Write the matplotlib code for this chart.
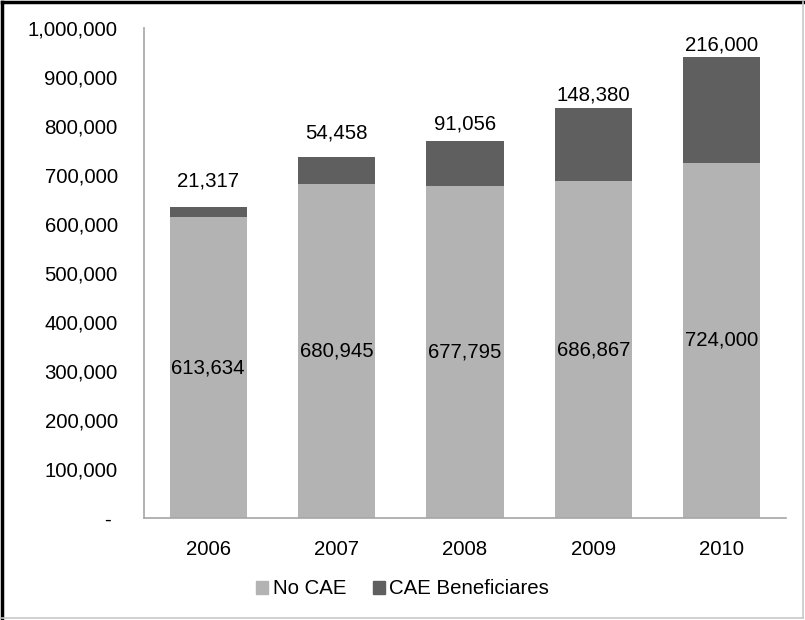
import matplotlib
matplotlib.use('Agg')
import matplotlib.pyplot as plt
from matplotlib.patches import Patch
from matplotlib.lines import Line2D
from matplotlib.ticker import FuncFormatter

plt.rcParams['font.family'] = ['Liberation Sans', 'DejaVu Sans']
plt.rcParams['font.size'] = 14.7

years = ['2006', '2007', '2008', '2009', '2010']
no_cae = [613634, 680945, 677795, 686867, 724000]
cae_benef = [21317, 54458, 91056, 148380, 216000]

light = '#b3b3b3'
dark = '#5f5f5f'
axis_grey = '#a6a6a6'

# pixel lift of each top label above its bar
top_lift = [26, 24, 17, 13, 12]

fig = plt.figure(figsize=(8.05, 6.2), dpi=100)
ax = fig.add_axes([0.1789, 0.1645, 0.7975, 0.7911])

x = range(len(years))
ax.bar(x, no_cae, width=0.6, color=light, label='No CAE')
ax.bar(x, cae_benef, width=0.6, bottom=no_cae, color=dark,
       label='CAE Beneficiares')

for i in x:
    ax.text(i, no_cae[i] / 2, '{:,}'.format(no_cae[i]),
            ha='center', va='center', color='k')
    ax.annotate('{:,}'.format(cae_benef[i]),
                xy=(i, no_cae[i] + cae_benef[i]),
                xytext=(0, top_lift[i]), textcoords='offset pixels',
                ha='center', va='center', color='k')

ax.set_xlim(-0.5, len(years) - 0.5)
ax.set_ylim(0, 1000000)
ax.set_yticks(range(0, 1000001, 100000))
ax.yaxis.set_major_formatter(
    FuncFormatter(lambda v, p: '- ' if v == 0 else '{:,.0f}'.format(v)))
ax.set_xticks(list(x))
ax.set_xticklabels(years)

for s in ['top', 'right']:
    ax.spines[s].set_visible(False)
for s in ['left', 'bottom']:
    ax.spines[s].set_color(axis_grey)
    ax.spines[s].set_linewidth(1.2)
ax.tick_params(axis='y', length=0, pad=19)
ax.tick_params(axis='x', length=0, pad=16)

handles = [Patch(color=light), Patch(color=dark)]
fig.legend(handles, ['No CAE', 'CAE Beneficiares'], loc='center',
           bbox_to_anchor=(0.5, 1 - 589 / 620.), ncol=2, frameon=False,
           handlelength=0.6, handleheight=0.6, handletextpad=0.2,
           columnspacing=1.3)

# outer frame: dark top/left, light right/bottom
fig.add_artist(Line2D([0.002, 0.998], [0.997, 0.997], color='k', lw=2.5,
                      transform=fig.transFigure))
fig.add_artist(Line2D([0.002, 0.002], [0.003, 0.997], color='k', lw=2.5,
                      transform=fig.transFigure))
fig.add_artist(Line2D([0.997, 0.997], [0.003, 0.997], color='#c8c8c8', lw=1.2,
                      transform=fig.transFigure))
fig.add_artist(Line2D([0.002, 0.997], [0.003, 0.003], color='#c8c8c8', lw=1.2,
                      transform=fig.transFigure))

fig.savefig('out.png', dpi=100)
